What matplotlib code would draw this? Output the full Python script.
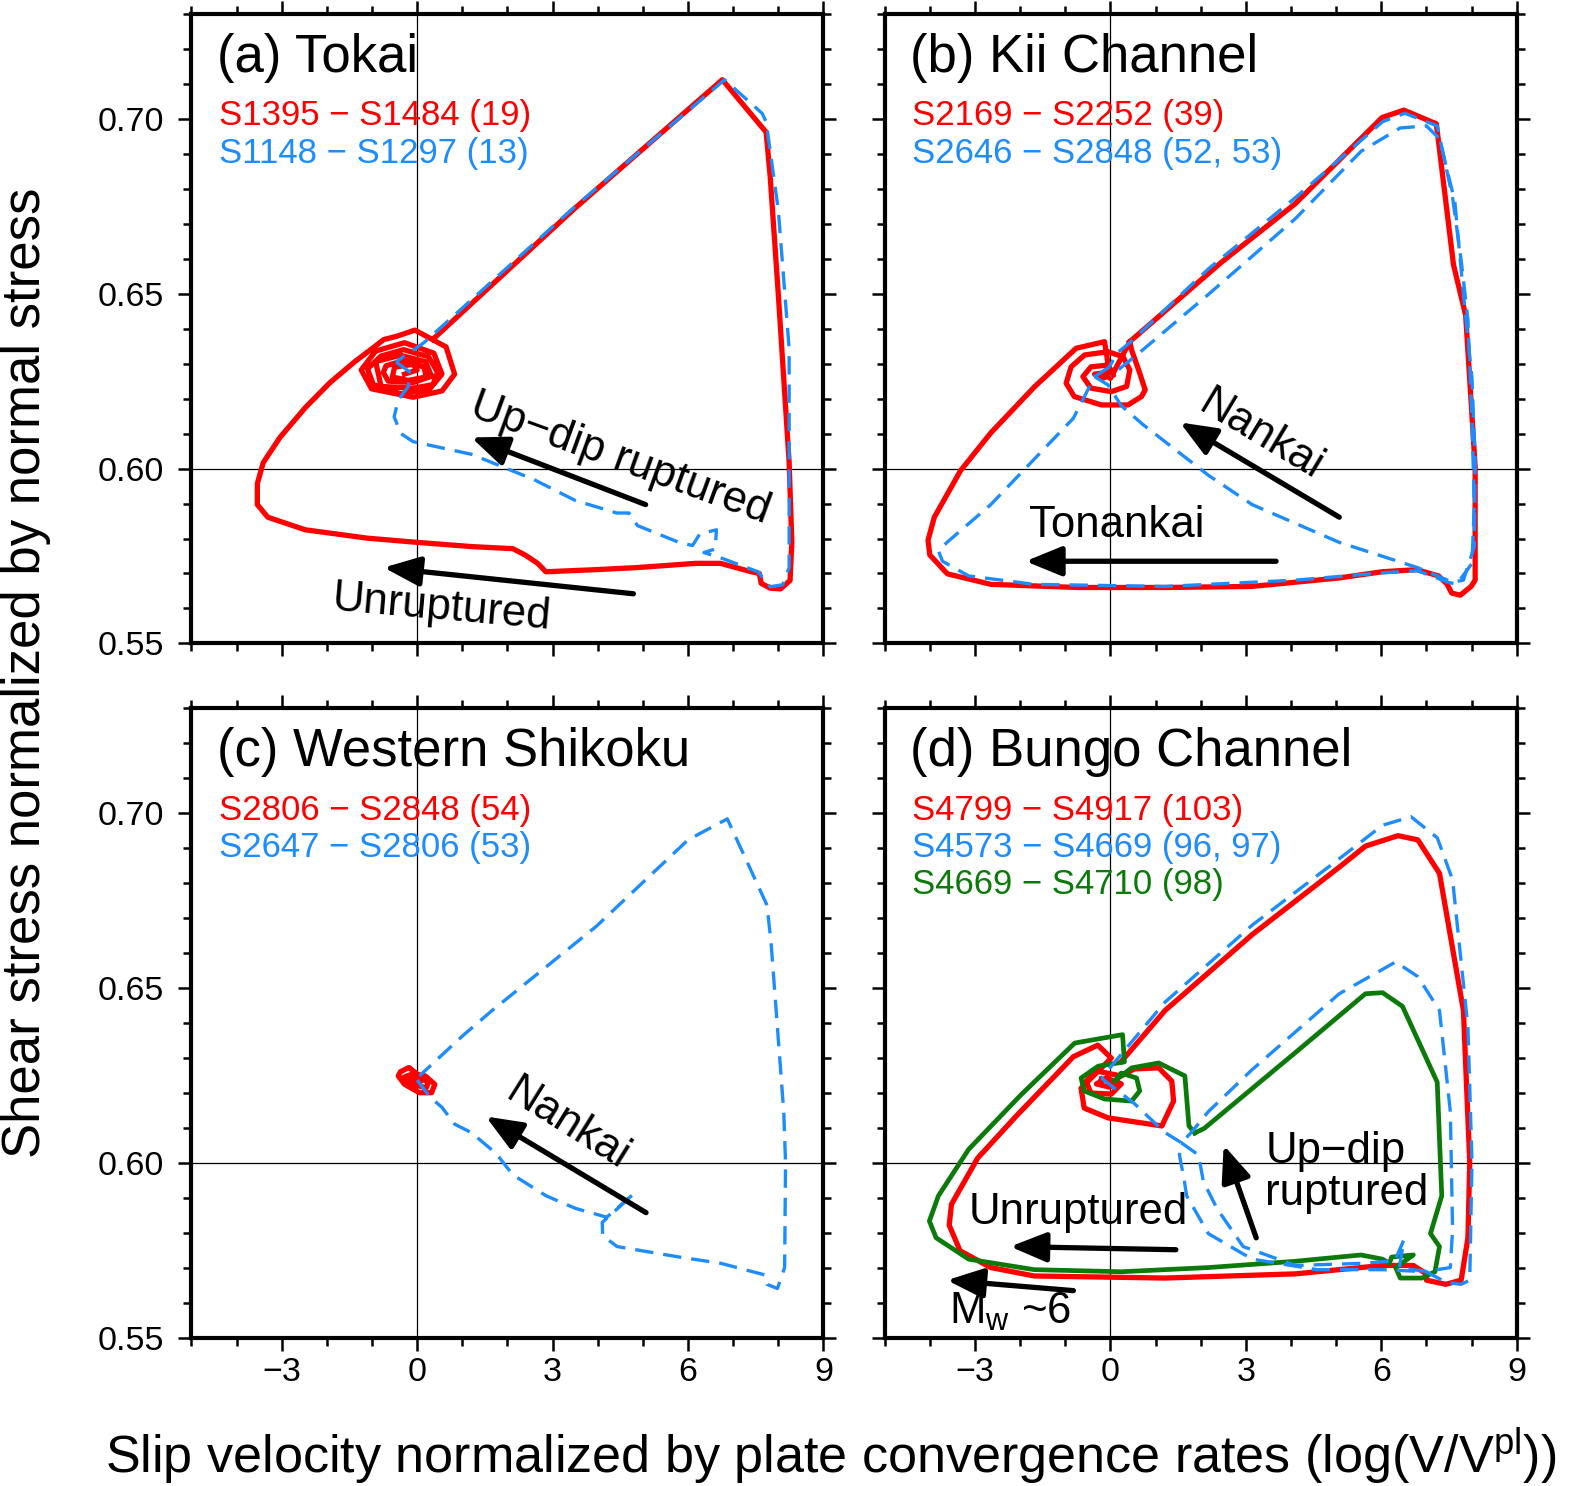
import numpy as np
import matplotlib
matplotlib.use("Agg")
import matplotlib.pyplot as plt
from matplotlib.ticker import MultipleLocator, FormatStrFormatter

plt.rcParams['font.family'] = ['Liberation Sans', 'DejaVu Sans']
plt.rcParams['mathtext.fontset'] = 'custom'
plt.rcParams['mathtext.rm'] = 'Liberation Sans'
plt.rcParams['mathtext.it'] = 'Liberation Sans:italic'

RED = '#ff0000'
BLUE = '#1c8cff'
GREEN = '#0b7a0b'

# ---- (a) Tokai ----
a_red_x = [0.35, 3.5, 6.76, 7.73, 7.82, 8.00, 8.24, 8.30, 8.26, 8.05, 7.82, 7.62, 7.58, 7.40,
           6.72, 6.17, 4.88, 3.96, 2.85, 2.67, 2.39, 2.12, 1.20, 0.00, -1.10, -2.48, -3.31,
           -3.54, -3.54, -3.41, -3.04, -2.48, -1.93, -1.38, -1.01, -0.74, -0.46, -0.05, 0.64,
           0.83, 0.55, -0.09, -1.01, -1.24, -0.92, -0.28, 0.37, 0.55, 0.28, -0.37, -0.97,
           -1.10, -0.80, -0.30, 0.25, 0.45, 0.35, -0.09, -0.80, -0.92, -0.37, 0.18, 0.32,
           -0.09, -0.64, -0.75, -0.69, -0.28, 0.15, 0.20, -0.20, -0.55, -0.50, -0.10, 0.00,
           -0.28]
a_red_y = [0.6370, 0.6745, 0.7112, 0.6962, 0.6835, 0.6498, 0.6017, 0.5789, 0.5680, 0.5656,
           0.5658, 0.5672, 0.5700, 0.5705, 0.5729, 0.5729, 0.5717, 0.5711, 0.5705, 0.5729,
           0.5753, 0.5771, 0.5777, 0.5789, 0.5801, 0.5825, 0.5861, 0.5897, 0.5957, 0.6017,
           0.6089, 0.6174, 0.6246, 0.6306, 0.6342, 0.6369, 0.6378, 0.6396, 0.6348, 0.6270,
           0.6222, 0.6204, 0.6228, 0.6282, 0.6336, 0.6360, 0.6330, 0.6270, 0.6228, 0.6214,
           0.6240, 0.6285, 0.6322, 0.6340, 0.6320, 0.6276, 0.6240, 0.6230, 0.6235, 0.6306,
           0.6324, 0.6306, 0.6264, 0.6246, 0.6250, 0.6275, 0.6294, 0.6310, 0.6290, 0.6262,
           0.6252, 0.6262, 0.6290, 0.6298, 0.6282, 0.6270]
a_blue_x = [-0.47, -0.31, -0.14, -0.20, -0.42, -0.51, -0.36, -0.09, 1.20, 2.58, 3.50, 4.42,
            4.69, 4.88, 5.34, 5.80, 6.10, 6.26, 6.63, 6.60, 6.35, 6.72, 7.55, 7.82, 8.10,
            8.24, 8.24, 8.00, 7.73, 7.64, 6.81, 3.50, 0.15, -0.47]
a_blue_y = [0.6305, 0.6290, 0.6274, 0.6234, 0.6196, 0.6148, 0.6100, 0.6077, 0.6041, 0.5969,
            0.5909, 0.5873, 0.5873, 0.5837, 0.5813, 0.5789, 0.5780, 0.5813, 0.5825, 0.5770,
            0.5760, 0.5745, 0.5705, 0.5662, 0.5668, 0.5717, 0.6342, 0.6739, 0.6992, 0.7016,
            0.7112, 0.6750, 0.6360, 0.6305]

# ---- (b) Kii Channel ----
b_red_x = [0.43, 2.45, 4.09, 6.02, 6.50, 7.22, 7.60, 7.87, 8.08, 8.08, 7.99, 7.75, 7.56, 7.46,
           7.27, 6.79, 6.02, 5.05, 3.13, 1.20, -0.72, -2.65, -3.61, -4.00, -4.04, -3.90,
           -3.32, -2.65, -1.68, -0.76, -0.13, 0.00, 0.43, 0.47, 0.65, 0.77, 0.69, 0.39, -0.20,
           -0.80, -0.98, -0.87, -0.57, -0.05, 0.28, 0.43, 0.36, 0.02, -0.43, -0.61, -0.43,
           -0.05, 0.07, -0.20, -0.35, -0.10]
b_red_y = [0.6363, 0.6589, 0.6757, 0.7004, 0.7025, 0.6986, 0.6583, 0.6438, 0.6005, 0.5681,
           0.5663, 0.5638, 0.5644, 0.5669, 0.5693, 0.5711, 0.5705, 0.5687, 0.5663, 0.5660,
           0.5660, 0.5669, 0.5699, 0.5753, 0.5795, 0.5861, 0.5994, 0.6102, 0.6234, 0.6344,
           0.6363, 0.6258, 0.6363, 0.6339, 0.6273, 0.6225, 0.6206, 0.6182, 0.6182, 0.6206,
           0.6244, 0.6291, 0.6325, 0.6334, 0.6320, 0.6282, 0.6235, 0.6220, 0.6230, 0.6263,
           0.6291, 0.6296, 0.6267, 0.6258, 0.6270, 0.6275]
b_blue1_x = [-0.02, -0.35, -0.82, -2.65, -3.62, -3.81, -3.72, -3.14, -1.69, 1.21, 4.10, 6.03,
             6.80, 7.48, 7.67, 8.01, 8.06, 8.01, 7.92, 7.77, 7.58, 7.24, 6.52, 6.03, 4.10,
             2.17, 0.43, 0.14, -0.02]
b_blue1_y = [0.6291, 0.6263, 0.6144, 0.5897, 0.5789, 0.5765, 0.5735, 0.5693, 0.5669, 0.5663,
             0.5681, 0.5702, 0.5708, 0.5675, 0.5669, 0.5729, 0.5897, 0.6138, 0.6426, 0.6595,
             0.6775, 0.6980, 0.7016, 0.6992, 0.6775, 0.6571, 0.6360, 0.6330, 0.6291]
b_blue2_x = [-0.35, -0.05, 0.24, 0.72, 2.17, 3.14, 5.07, 6.80, 7.58, 7.82, 8.06, 8.08, 8.01,
             7.82, 7.63, 7.29, 7.00, 6.42, 5.55, 4.10, 2.17, 0.63, 0.00]
b_blue2_y = [0.6263, 0.6239, 0.6180, 0.6126, 0.5981, 0.5897, 0.5789, 0.5717, 0.5675, 0.5681,
             0.5777, 0.6017, 0.6258, 0.6498, 0.6763, 0.6943, 0.6980, 0.6974, 0.6907, 0.6715,
             0.6498, 0.6330, 0.6264]

# ---- (c) Western Shikoku ----
c_red_x = [0.05, -0.18, -0.37, -0.42, -0.28, 0.05, 0.32, 0.39, 0.18, -0.10, -0.30, -0.10,
           0.20, 0.25, 0.00, -0.20, 0.05, 0.10]
c_red_y = [0.6249, 0.6273, 0.6261, 0.6249, 0.6225, 0.6201, 0.6201, 0.6225, 0.6249, 0.6255,
           0.6245, 0.6225, 0.6215, 0.6232, 0.6245, 0.6238, 0.6228, 0.6240]
c_blue_x = [0.00, 0.28, 0.55, 0.83, 1.20, 1.75, 2.12, 2.86, 3.51, 4.20, 4.80, 4.10, 4.11, 4.43,
            5.81, 6.73, 7.70, 7.75, 7.98, 8.14, 8.16, 8.12, 7.84, 7.75, 6.87, 6.00, 3.97,
            2.12, 1.66, 1.01, 0.05]
c_blue_y = [0.6237, 0.6189, 0.6159, 0.6111, 0.6087, 0.6027, 0.5966, 0.5906, 0.5870, 0.5845,
            0.5912, 0.5830, 0.5792, 0.5761, 0.5731, 0.5713, 0.5680, 0.5653, 0.5641, 0.5701,
            0.6002, 0.6147, 0.6629, 0.6737, 0.6984, 0.6924, 0.6677, 0.6484, 0.6436, 0.6364,
            0.6249]

# ---- (d) Bungo Channel ----
d_red_x = [0.24, 1.21, 3.14, 5.07, 5.65, 6.37, 6.81, 7.29, 7.82, 7.96, 7.92, 7.77, 7.43, 7.00,
           7.00, 6.71, 6.03, 4.10, 1.21, -1.69, -2.65, -3.33, -3.57, -3.52, -2.94, -2.08,
           -0.82, -0.28, 0.02, -0.65, -0.58, -0.05, 1.14, 1.40, 1.36, 1.07, 0.53, 0.24, -0.31,
           -0.54, -0.43, 0.02, 0.24, -0.09, -0.31, -0.02, 0.15, -0.20]
d_red_y = [0.6290, 0.6436, 0.6653, 0.6846, 0.6906, 0.6936, 0.6924, 0.6828, 0.6436, 0.6002,
           0.5786, 0.5665, 0.5653, 0.5665, 0.5683, 0.5707, 0.5707, 0.5683, 0.5671, 0.5677,
           0.5701, 0.5749, 0.5822, 0.5882, 0.6014, 0.6135, 0.6304, 0.6337, 0.6300, 0.6214,
           0.6157, 0.6129, 0.6106, 0.6177, 0.6234, 0.6272, 0.6269, 0.6249, 0.6263, 0.6234,
           0.6200, 0.6197, 0.6226, 0.6243, 0.6226, 0.6217, 0.6232, 0.6240]
d_green_x = [1.87, 2.08, 4.10, 5.65, 6.03, 6.47, 7.24, 7.34, 7.09, 7.29, 7.19, 6.90, 6.42, 6.32,
             6.71, 6.23, 6.18, 6.03, 5.55, 4.10, 2.17, 0.24, -1.69, -3.14, -3.86, -4.01,
             -3.81, -3.14, -1.98, -0.79, 0.27, 0.31, -0.27, -0.65, -0.58, -0.13, 0.47, 0.65,
             0.58, 0.24, 0.09, 0.47, 1.07, 1.65, 1.74, 1.87]
d_green_y = [0.6086, 0.6099, 0.6316, 0.6484, 0.6487, 0.6448, 0.6231, 0.5906, 0.5798, 0.5761,
             0.5689, 0.5671, 0.5671, 0.5701, 0.5737, 0.5731, 0.5713, 0.5725, 0.5737, 0.5719,
             0.5701, 0.5689, 0.5695, 0.5725, 0.5786, 0.5834, 0.5906, 0.6039, 0.6195, 0.6343,
             0.6367, 0.6289, 0.6277, 0.6243, 0.6206, 0.6183, 0.6177, 0.6206, 0.6243, 0.6257,
             0.6234, 0.6272, 0.6286, 0.6249, 0.6106, 0.6086]
d_blue1_x = [-0.20, 0.53, 1.20, 1.57, 1.53, 1.64, 1.69, 2.17, 3.14, 4.58, 6.03, 7.00, 7.43,
             7.77, 7.96, 8.01, 7.92, 7.58, 7.24, 6.66, 6.03, 5.07, 3.14, 1.21, -0.20]
d_blue1_y = [0.6243, 0.6170, 0.6088, 0.6058, 0.6023, 0.5947, 0.5906, 0.5798, 0.5725, 0.5695,
             0.5695, 0.5689, 0.5659, 0.5653, 0.5665, 0.6002, 0.6388, 0.6810, 0.6930, 0.6990,
             0.6966, 0.6870, 0.6680, 0.6460, 0.6243]
d_blue2_x = [1.57, 1.95, 2.06, 2.36, 2.94, 4.10, 5.55, 6.30, 6.50, 6.40, 7.00, 7.53, 7.58, 7.53,
             7.29, 6.81, 6.32, 5.07, 3.14, 2.17, 1.79, 1.57]
d_blue2_y = [0.6058, 0.6023, 0.5947, 0.5870, 0.5761, 0.5707, 0.5713, 0.5720, 0.5780, 0.5700,
             0.5690, 0.5701, 0.5810, 0.6147, 0.6436, 0.6533, 0.6575, 0.6484, 0.6267, 0.6147,
             0.6087, 0.6058]

# annotation arrows: (tail x, tail y, tip x, tip y)
a_arrows = [(5.06, 0.5897, 1.20, 0.6089), (4.79, 0.5642, -0.74, 0.5717)]
b_arrows = [(5.07, 0.5861, 1.54, 0.6132), (3.67, 0.5735, -1.88, 0.5735)]
c_arrows = [(5.07, 0.5858, 1.52, 0.6133)]
d_arrows = [(3.23, 0.5786, 2.51, 0.6051), (1.45, 0.5752, -2.22, 0.5761),
            (-0.82, 0.5635, -3.62, 0.5665)]

fig = plt.figure(figsize=(15.94, 14.86), dpi=100)
W, H = 0.3965, 0.4236
axa = fig.add_axes([0.1201, 0.5670, W, H])
axb = fig.add_axes([0.5550, 0.5670, W, H])
axc = fig.add_axes([0.1201, 0.0997, W, H])
axd = fig.add_axes([0.5550, 0.0997, W, H])


def setup(ax, left, bottom):
    ax.set_xlim(-5, 9)
    ax.set_ylim(0.55, 0.73)
    ax.set_xticks([-3, 0, 3, 6, 9])
    ax.set_yticks([0.55, 0.60, 0.65, 0.70])
    ax.xaxis.set_minor_locator(MultipleLocator(1))
    ax.yaxis.set_minor_locator(MultipleLocator(0.01))
    ax.yaxis.set_major_formatter(FormatStrFormatter('%.2f'))
    ax.axvline(0, color='k', lw=0.9, zorder=1)
    ax.axhline(0.60, color='k', lw=0.9, zorder=1)
    for s in ax.spines.values():
        s.set_linewidth(3.0)
    ax.tick_params(which='both', direction='out', top=True, right=True, width=1.8,
                   labelsize=24.5, labelleft=left, labelbottom=bottom)
    ax.tick_params(which='major', length=9.5)
    ax.tick_params(which='minor', length=5.5)
    ax.tick_params(axis='y', which='major', pad=10)
    ax.tick_params(axis='x', which='major', pad=4)


def arrows(ax, lst):
    for x0, y0, x1, y1 in lst:
        ax.annotate('', xy=(x1, y1), xytext=(x0, y0),
                    arrowprops=dict(arrowstyle='-|>,head_length=1.1,head_width=0.45',
                                    lw=3.8, color='k', mutation_scale=20,
                                    shrinkA=0, shrinkB=0), zorder=6)


def labels(ax, title, lines):
    ax.text(0.04, 0.93, title, transform=ax.transAxes, fontsize=38, va='center', ha='left')
    ys = [0.838, 0.779, 0.720]
    for (txt, col), yy in zip(lines, ys):
        ax.text(0.043, yy, txt, transform=ax.transAxes, fontsize=25, color=col,
                va='center', ha='left')


M = '\u2212'
for ax, l, b in [(axa, True, False), (axb, False, False), (axc, True, True), (axd, False, True)]:
    setup(ax, l, b)

dash = dict(dashes=(5.5, 3))
RW, BW, GW = 3.8, 2.4, 3.4

# (a)
axa.plot(a_red_x, a_red_y, color=RED, lw=RW, zorder=3, solid_joinstyle='round')
axa.plot(a_blue_x, a_blue_y, color=BLUE, lw=BW, zorder=4, **dash)
labels(axa, '(a) Tokai', [(f'S1395 {M} S1484 (19)', RED), (f'S1148 {M} S1297 (13)', BLUE)])
arrows(axa, a_arrows)
axa.text(4.51, 0.6029, f'Up{M}dip ruptured', fontsize=31.5, rotation=-20, ha='center',
         va='center', rotation_mode='anchor')
axa.text(0.55, 0.5602, 'Unruptured', fontsize=31.5, rotation=-5, ha='center', va='center',
         rotation_mode='anchor')

# (b)
axb.plot(b_red_x, b_red_y, color=RED, lw=RW, zorder=3, solid_joinstyle='round')
axb.plot(b_blue1_x, b_blue1_y, color=BLUE, lw=BW, zorder=4, **dash)
axb.plot(b_blue2_x, b_blue2_y, color=BLUE, lw=BW, zorder=4, **dash)
labels(axb, '(b) Kii Channel', [(f'S2169 {M} S2252 (39)', RED), (f'S2646 {M} S2848 (52, 53)', BLUE)])
arrows(axb, b_arrows)
axb.text(3.33, 0.6095, 'Nankai', fontsize=31.5, rotation=-31, ha='center', va='center',
         rotation_mode='anchor')
axb.text(0.14, 0.5837, 'Tonankai', fontsize=31.5, ha='center', va='center')

# (c)
axc.plot(c_red_x, c_red_y, color=RED, lw=RW, zorder=3, solid_joinstyle='round')
axc.plot(c_blue_x, c_blue_y, color=BLUE, lw=BW, zorder=4, **dash)
labels(axc, '(c) Western Shikoku', [(f'S2806 {M} S2848 (54)', RED), (f'S2647 {M} S2806 (53)', BLUE)])
arrows(axc, c_arrows)
axc.text(3.32, 0.6111, 'Nankai', fontsize=31.5, rotation=-32, ha='center', va='center',
         rotation_mode='anchor')

# (d)
axd.plot(d_red_x, d_red_y, color=RED, lw=RW, zorder=3, solid_joinstyle='round')
axd.plot(d_green_x, d_green_y, color=GREEN, lw=GW, zorder=4, solid_joinstyle='round')
axd.plot(d_blue1_x, d_blue1_y, color=BLUE, lw=BW, zorder=5, **dash)
axd.plot(d_blue2_x, d_blue2_y, color=BLUE, lw=BW, zorder=5, **dash)
labels(axd, '(d) Bungo Channel', [(f'S4799 {M} S4917 (103)', RED),
                                  (f'S4573 {M} S4669 (96, 97)', BLUE),
                                  (f'S4669 {M} S4710 (98)', GREEN)])
arrows(axd, d_arrows)
axd.text(3.43, 0.6033, f'Up{M}dip', fontsize=31.5, ha='left', va='center')
axd.text(3.43, 0.5912, 'ruptured', fontsize=31.5, ha='left', va='center')
axd.text(-3.14, 0.5858, 'Unruptured', fontsize=31.5, ha='left', va='center')
axd.text(-3.57, 0.5575, r'M$_{\mathrm{w}}$ ~6', fontsize=31.5, ha='left', va='center')

fig.text(0.016, 0.547, 'Shear stress normalized by normal stress', rotation=90,
         fontsize=38, ha='center', va='center')
fig.text(0.521, 0.02, r'Slip velocity normalized by plate convergence rates (log(V/V$^{\mathrm{pl}}$))',
         fontsize=37.5, ha='center', va='center')

fig.savefig('out.png', dpi=100)
